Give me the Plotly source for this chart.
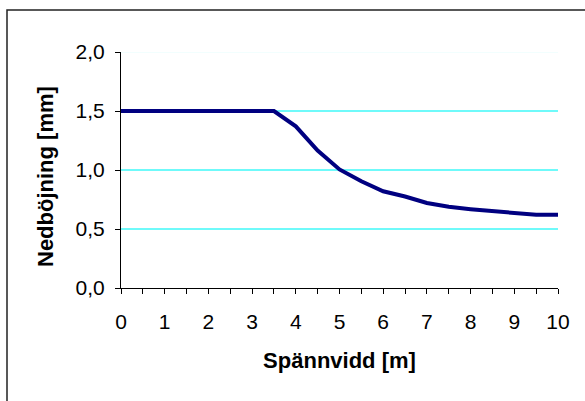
import plotly.graph_objects as go

# Span (m) and deflection (mm)
span_m = [0, 0.5, 1, 1.5, 2, 2.5, 3, 3.5, 4, 4.5, 5, 5.5, 6, 6.5, 7, 7.5, 8, 8.5, 9, 9.5, 10]
deflection_mm = [1.5, 1.5, 1.5, 1.5, 1.5, 1.5, 1.5, 1.5, 1.37, 1.165, 1.005, 0.905, 0.82,
                 0.775, 0.72, 0.688, 0.668, 0.652, 0.637, 0.62, 0.62]

x_ticks = [0, 1, 2, 3, 4, 5, 6, 7, 8, 9, 10]
y_ticks = [0.0, 0.5, 1.0, 1.5, 2.0]

W, H = 585, 401
L, R, T, B = 121, 27, 52, 113
pw, ph = W - L - R, H - T - B

fig = go.Figure()
fig.add_trace(go.Scatter(
    x=span_m, y=deflection_mm, mode="lines",
    line=dict(color="#000080", width=4),
    hoverinfo="skip", showlegend=False,
))

font = "Liberation Sans, Arial, sans-serif"

fig.update_layout(
    width=W, height=H,
    margin=dict(l=L, r=R, t=T, b=B, autoexpand=False),
    paper_bgcolor="white", plot_bgcolor="white",
    separators=", ",
    font=dict(family=font, size=20, color="black"),
    xaxis=dict(
        range=[0, 10], tickvals=x_ticks, ticks="outside", ticklen=5, tickwidth=1,
        tickcolor="black", showline=True, linecolor="black", linewidth=1,
        showgrid=False, zeroline=False, ticklabelstandoff=10,
        minor=dict(dtick=0.5, ticks="outside", ticklen=5, tickwidth=1, tickcolor="black", showgrid=False),
        tickfont=dict(size=21),
        title=dict(text="<b>Spännvidd [m]</b>", font=dict(size=22), standoff=20),
        automargin=False,
    ),
    yaxis=dict(
        range=[0, 2], tickvals=y_ticks, tickformat=".1f", ticks="outside", ticklen=5,
        tickwidth=1, tickcolor="black", showline=True, linecolor="black", linewidth=1,
        showgrid=True, gridcolor="#6ffafa", gridwidth=2, zeroline=False,
        ticklabelstandoff=6, tickfont=dict(size=21),
        automargin=False,
    ),
    annotations=[
        # value-axis title, set a little below the axis midpoint
        dict(text="<b>Nedböjning [mm]</b>", xref="paper", yref="paper",
             x=(45 - L) / pw, y=(H - B - 177) / ph, xanchor="center", yanchor="middle",
             textangle=-90, showarrow=False, font=dict(size=22)),
    ],
    shapes=[
        # softened gridline at the top of the value axis
        dict(type="line", xref="x", yref="y", x0=0, x1=10, y0=2, y1=2,
             line=dict(color="#f2fefe", width=2), layer="below"),
        # chart frame
        dict(type="rect", xref="paper", yref="paper",
             x0=(7 - L) / pw, x1=(W + 5 - L) / pw,
             y0=(H - B - (H + 5)) / ph, y1=(H - B - 10) / ph,
             line=dict(color="#222222", width=1.5), fillcolor="rgba(0,0,0,0)", layer="above"),
    ],
)

fig.write_html("out.html")
